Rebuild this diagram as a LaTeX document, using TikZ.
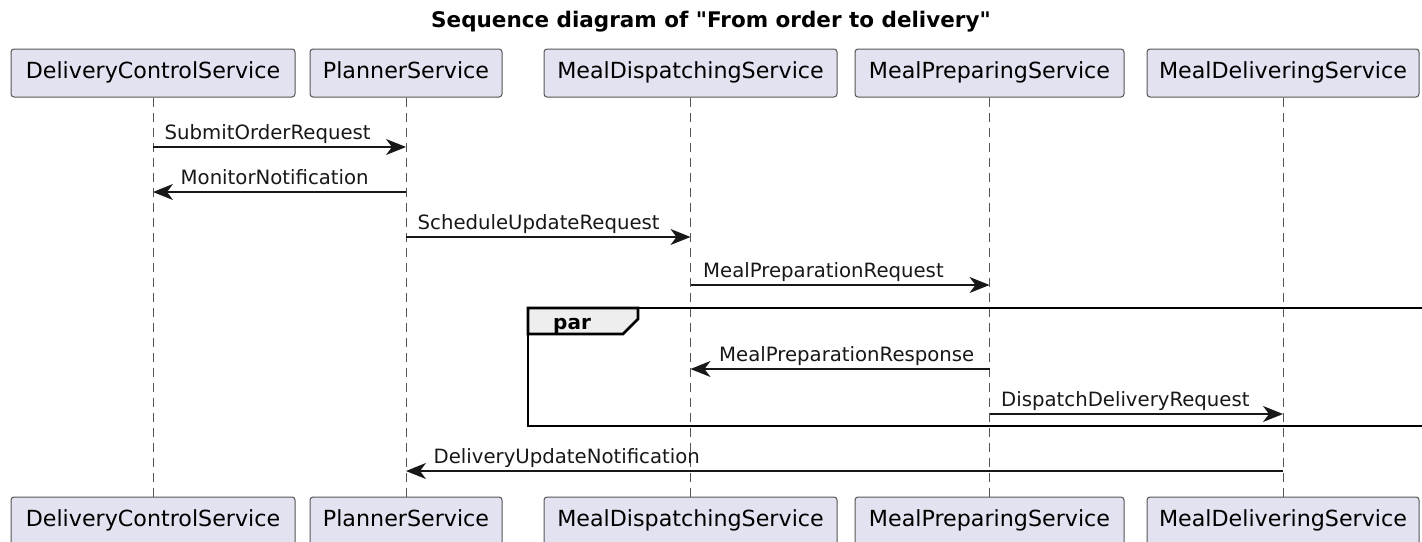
\documentclass[tikz,border=0pt]{standalone}
\usepackage{fontspec}
\setmainfont{DejaVu Sans}
% a family without the TeX quote mapping, so " stays a straight quote
\newfontfamily\plainfont{DejaVu Sans}
\usetikzlibrary{arrows.meta}
\definecolor{partfill}{HTML}{E2E2F0}
\definecolor{partline}{HTML}{555555}
\definecolor{ink}{HTML}{181818}
\definecolor{tabfill}{HTML}{EEEEEE}
\tikzset{
  participant/.style={draw=partline, line width=1pt, fill=partfill, rounded corners=3pt,
    minimum height=48pt, inner sep=0pt, font=\fontsize{22.2}{26}\selectfont},
  lifeline/.style={draw=partline, line width=1pt, dash pattern=on 9pt off 6pt},
  msg/.style={draw=ink, line width=1.4pt, -{Stealth[length=20pt, width=16pt, inset=6pt]}},
  lbl/.style={font=\fontsize{19.7}{23}\selectfont, text=ink, inner sep=0pt, anchor=base west, yshift=8pt},
  frame/.style={draw=black, line width=2.6pt},
}
\begin{document}
\begin{tikzpicture}[x=1pt, y=-1pt]
  \useasboundingbox (0,0) rectangle (1422,541);
  \clip (0,0) rectangle (1422,541);
  \fill[white] (0,0) rectangle (1422,541);

  % title
  \node[anchor=base, inner sep=0pt, font=\plainfont\bfseries\fontsize{21.5}{25}\selectfont] (title) at (711,27)
    {Sequence diagram of "From order to delivery"};

  % participants, top row
  \node[participant, minimum width=284pt] (dcs) at (153,73) {\strut DeliveryControlService};
  \node[participant, minimum width=192pt] (ps)  at (406,73) {\strut PlannerService};
  \node[participant, minimum width=293pt] (mds) at (690.5,73) {\strut MealDispatchingService};
  \node[participant, minimum width=269pt] (mps) at (989.5,73) {\strut MealPreparingService};
  \node[participant, minimum width=272pt] (mls) at (1283,73) {\strut MealDeliveringService};

  % participants, bottom row
  \node[participant, minimum width=284pt] (dcsb) at (153,521) {\strut DeliveryControlService};
  \node[participant, minimum width=192pt] (psb)  at (406,521) {\strut PlannerService};
  \node[participant, minimum width=293pt] (mdsb) at (690.5,521) {\strut MealDispatchingService};
  \node[participant, minimum width=269pt] (mpsb) at (989.5,521) {\strut MealPreparingService};
  \node[participant, minimum width=272pt] (mlsb) at (1283,521) {\strut MealDeliveringService};

  % lifelines
  \draw[lifeline] (dcs.south) -- (dcsb.north);
  \draw[lifeline] (ps.south) -- (psb.north);
  \draw[lifeline] (mds.south) -- (mdsb.north);
  \draw[lifeline] (mps.south) -- (mpsb.north);
  \draw[lifeline] (mls.south) -- (mlsb.north);

  % par fragment
  \draw[frame] (528,308) rectangle (1440,426);
  \filldraw[frame, fill=tabfill] (528,308) -- (638,308) -- (638,319) -- (623,334) -- (528,334) -- cycle;
  \node[anchor=base west, inner sep=0pt, font=\bfseries\fontsize{20}{24}\selectfont] (par) at (553,329) {par};

  % messages
  \draw[msg] (dcs |- 0,147) -- (ps |- 0,147)
    node[pos=0, lbl, xshift=11pt] {SubmitOrderRequest};
  \draw[msg] (ps |- 0,192) -- (dcs |- 0,192)
    node[pos=1, lbl, xshift=27pt] {MonitorNotification};
  \draw[msg] (ps |- 0,237) -- (mds |- 0,237)
    node[pos=0, lbl, xshift=11pt] {ScheduleUpdateRequest};
  \draw[msg] (mds |- 0,285) -- (mps |- 0,285)
    node[pos=0, lbl, xshift=12pt] {MealPreparationRequest};
  \draw[msg] (mps |- 0,369) -- (mds |- 0,369)
    node[pos=1, lbl, xshift=28pt] {MealPreparationResponse};
  \draw[msg] (mps |- 0,414) -- (mls |- 0,414)
    node[pos=0, lbl, xshift=11pt] {DispatchDeliveryRequest};
  \draw[msg] (mls |- 0,471) -- (ps |- 0,471)
    node[pos=1, lbl, xshift=27pt] {DeliveryUpdateNotification};
\end{tikzpicture}
\end{document}
